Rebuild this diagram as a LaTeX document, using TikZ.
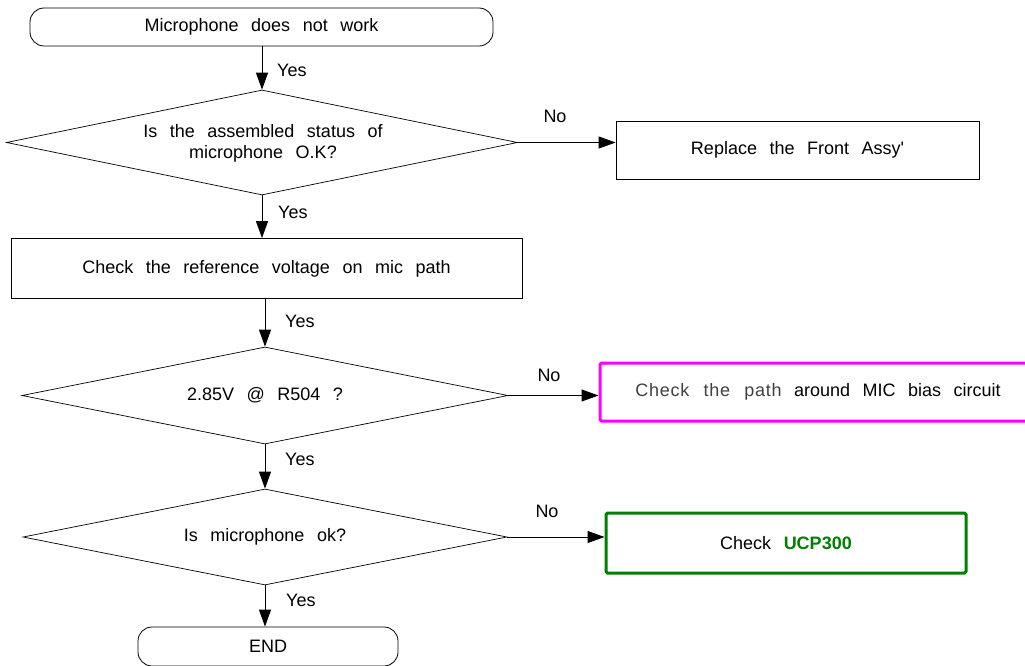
\documentclass[tikz,border=0pt]{standalone}
\usepackage{fontspec}
\setmainfont{Liberation Sans}[WordSpace=2.5]
\usetikzlibrary{shapes.geometric,arrows.meta}
\definecolor{magentabox}{RGB}{255,0,255}
\definecolor{greenbox}{RGB}{0,128,0}
\definecolor{greytext}{RGB}{64,64,64}
\tikzset{
  txt/.style={font=\fontsize{18}{21}\selectfont, inner sep=0pt},
  term/.style={draw, rectangle, rounded corners=14pt, line width=0.8pt, inner sep=0pt, txt},
  procbox/.style={draw, rectangle, line width=0.8pt, inner sep=0pt, txt},
  dia/.style={draw, diamond, line width=0.7pt, inner sep=0pt},
  arr/.style={line width=1pt, -{Triangle[length=17pt,width=12pt]}},
  lbl/.style={txt, anchor=west},
  nolbl/.style={txt, anchor=center}
}
\begin{document}
\begin{tikzpicture}[x=1pt,y=-1pt]
\useasboundingbox (0,0) rectangle (1025,666);
\fill[white] (0,0) rectangle (1025,666);

% nodes
\node[term, minimum width=463pt, minimum height=38pt] (t) at (261.5,27) {Microphone does not work};

\node[dia, minimum width=511pt, minimum height=105pt] (d1) at (262,142.5) {};
\node[txt, align=center] (d1t) at (263,143) {Is the assembled status of\\microphone O.K?};

\node[procbox, minimum width=363pt, minimum height=58pt] (r1) at (797.5,150) {Replace the Front Assy\textquotesingle};

\node[procbox, minimum width=511pt, minimum height=60pt] (c1) at (266.5,268.5) {Check the reference voltage on mic path};

\node[dia, minimum width=486pt, minimum height=97pt] (d2) at (265,395.5) {};
\node[txt] (d2t) at (265,395) {2.85V @ R504 ?};

\node[draw=magentabox, line width=3pt, rounded corners=1.5pt, rectangle, minimum width=436pt, minimum height=58pt, inner sep=0pt, txt] (m) at (818,392)
  {{\color{greytext}\addfontfeature{LetterSpace=4}Check the path} around MIC bias circuit};

\node[dia, minimum width=484pt, minimum height=96pt] (d3) at (265,537) {};
\node[txt] (d3t) at (265,537) {Is microphone ok?};

\node[draw=greenbox, line width=3pt, rounded corners=1.5pt, rectangle, minimum width=360pt, minimum height=60pt, inner sep=0pt, txt] (g) at (786,543)
  {Check \textcolor{greenbox}{\bfseries UCP300}};

\node[term, minimum width=260pt, minimum height=39pt] (e) at (268,646.5) {END};

% connectors
\draw[arr] (t.south -| d1.north) -- (d1.north);
\draw[arr] (d1.south) -- (d1.south |- c1.north);
\draw[arr] (d2.north |- c1.south) -- (d2.north);
\draw[arr] (d2.south) -- (d3.north);
\draw[arr] (d3.south) -- (d3.south |- e.north);

\draw[arr] (d1.east) -- (d1.east -| r1.west);
\draw[arr] (d2.east) -- (d2.east -| m.west);
\draw[arr] (d3.east) -- (d3.east -| g.west);

% labels
\node[lbl] (y1) at (277,70) {Yes};
\node[lbl] (y2) at (278,212) {Yes};
\node[lbl] (y3) at (285,321) {Yes};
\node[lbl] (y4) at (285,459) {Yes};
\node[lbl] (y5) at (286,600) {Yes};
\node[nolbl] (n1) at (555,116) {No};
\node[nolbl] (n2) at (549,375) {No};
\node[nolbl] (n3) at (547,511) {No};
\end{tikzpicture}
\end{document}
